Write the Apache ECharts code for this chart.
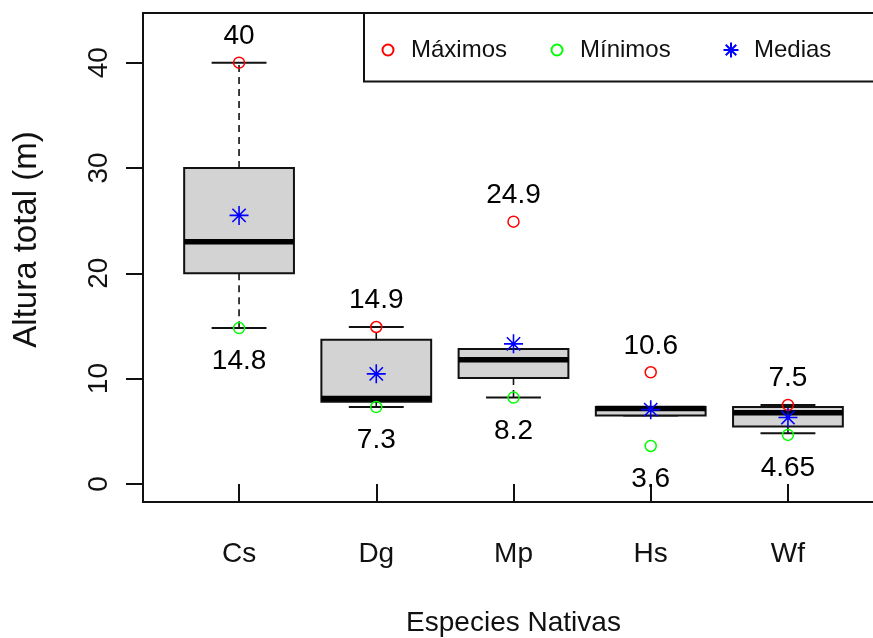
<!DOCTYPE html>
<html>
<head>
<meta charset="utf-8">
<script src="https://cdn.jsdelivr.net/npm/echarts@6/dist/echarts.min.js"></script>
<style>
  html, body { margin: 0; padding: 0; background: #fff; }
  #chart { width: 873px; height: 638px; }
</style>
</head>
<body>
<div id="chart"></div>
<script>
// Species and their height summaries (m)
const categories = ['Cs', 'Dg', 'Mp', 'Hs', 'Wf'];
const whiskerLow = [14.8, 7.3, 8.2, 6.5, 4.8];
const lowerQuartile = [20, 7.8, 10.05, 6.5, 5.45];
const medians = [23, 8.1, 11.8, 7.15, 6.75];
const upperQuartile = [30, 13.7, 12.8, 7.3, 7.3];
const whiskerHigh = [40, 14.9, 12.8, 7.3, 7.5];
const maxima = [40, 14.9, 24.9, 10.6, 7.5];
const minima = [14.8, 7.3, 8.2, 3.6, 4.65];
const means = [25.5, 10.45, 13.3, 7.05, 6.3];
const yTicks = [0, 10, 20, 30, 40];

const xPos = categories.map((_, i) => i + 1);
const boxData = categories.map((_, i) => [
  xPos[i], whiskerLow[i], lowerQuartile[i], medians[i], upperQuartile[i], whiskerHigh[i]
]);
const maxData = categories.map((_, i) => [xPos[i], maxima[i]]);
const minData = categories.map((_, i) => [xPos[i], minima[i]]);
const meanData = categories.map((_, i) => [xPos[i], means[i]]);

const ink = '#111';
const font = '"Liberation Sans", Arial, Helvetica, sans-serif';

function renderBox(params, api) {
  const x = api.value(0);
  const lo = api.value(1), q1 = api.value(2), md = api.value(3), q3 = api.value(4), hi = api.value(5);
  const halfBox = api.size([0.4, 0])[0];
  const halfCap = api.size([0.2, 0])[0];
  const pLo = api.coord([x, lo]);
  const pQ1 = api.coord([x, q1]);
  const pMd = api.coord([x, md]);
  const pQ3 = api.coord([x, q3]);
  const pHi = api.coord([x, hi]);
  const cx = pMd[0];
  const dashed = { stroke: ink, lineWidth: 1.6, lineDash: [7, 5] };
  const solid = { stroke: ink, lineWidth: 2 };
  return {
    type: 'group',
    children: [
      { type: 'line', shape: { x1: cx, y1: pQ3[1], x2: cx, y2: pHi[1] }, style: dashed },
      { type: 'line', shape: { x1: cx, y1: pQ1[1], x2: cx, y2: pLo[1] }, style: dashed },
      { type: 'line', shape: { x1: cx - halfCap, y1: pHi[1], x2: cx + halfCap, y2: pHi[1] }, style: solid },
      { type: 'line', shape: { x1: cx - halfCap, y1: pLo[1], x2: cx + halfCap, y2: pLo[1] }, style: solid },
      {
        type: 'rect',
        shape: { x: cx - halfBox, y: pQ3[1], width: halfBox * 2, height: pQ1[1] - pQ3[1] },
        style: { fill: '#D3D3D3', stroke: ink, lineWidth: 2 }
      },
      { type: 'line', shape: { x1: cx - halfBox, y1: pMd[1], x2: cx + halfBox, y2: pMd[1] }, style: { stroke: '#000', lineWidth: 5.5 } }
    ]
  };
}

// one legend entry per block so each key sits in its own column
function legendEntry(name, left, iconSize) {
  return {
    data: [name], left: left, top: 38 + (11 - iconSize) / 2 * 0, padding: 0,
    itemWidth: iconSize, itemHeight: iconSize,
    textStyle: { fontSize: 24, color: ink, fontFamily: font, padding: [0, 0, 0, 23 - iconSize / 2 - 5] }
  };
}

const chart = echarts.init(document.getElementById('chart'), null, { renderer: 'canvas' });
chart.setOption({
  animation: false,
  backgroundColor: '#fff',
  textStyle: { fontFamily: font },
  grid: {
    left: 143, top: 13, width: 741, height: 489,
    outerBoundsMode: 'none', containLabel: false,
    show: true, borderColor: ink, borderWidth: 2, backgroundColor: 'transparent'
  },
  graphic: [{
    type: 'rect',
    shape: { x: 364, y: 13, width: 600, height: 68.5 },
    style: { fill: 'none', stroke: ink, lineWidth: 2 },
    z: 10
  }],
  legend: [
    legendEntry('Máximos', 381.5, 11),
    legendEntry('Mínimos', 550.5, 11),
    legendEntry('Medias', 722.5, 15)
  ],
  xAxis: {
    type: 'value', min: 0.3, max: 5.7,
    name: 'Especies Nativas', nameLocation: 'middle', nameGap: 107,
    nameTextStyle: { fontSize: 28, color: ink, fontFamily: font },
    axisLine: { show: false },
    splitLine: { show: false },
    axisTick: { show: true, customValues: xPos, length: 17, lineStyle: { color: ink, width: 2 } },
    axisLabel: {
      customValues: xPos, margin: 38, fontSize: 28, color: ink, fontFamily: font,
      formatter: v => categories[Math.round(v) - 1] || ''
    }
  },
  yAxis: {
    type: 'value', min: -1.72, max: 44.72,
    name: 'Altura total (m)', nameLocation: 'middle', nameGap: 100,
    nameTextStyle: { fontSize: 33, color: ink, fontFamily: font, padding: [0, 0, 0, 36] },
    axisLine: { show: false },
    splitLine: { show: false },
    axisTick: { show: true, customValues: yTicks, length: 17, lineStyle: { color: ink, width: 2 } },
    axisLabel: {
      customValues: yTicks, rotate: 90, margin: 30, fontSize: 28, color: ink, fontFamily: font
    }
  },
  series: [
    {
      type: 'custom', name: 'cajas', renderItem: renderBox, data: boxData,
      encode: { x: 0, y: [1, 2, 3, 4, 5] }, z: 2, silent: true
    },
    {
      type: 'scatter', name: 'Máximos', data: maxData, symbol: 'circle', symbolSize: 11, z: 5,
      itemStyle: { color: 'transparent', borderColor: '#FF0000', borderWidth: 1.5, opacity: 1 },
      label: {
        show: true, position: 'top', distance: 6, fontSize: 28, color: '#000', opacity: 1,
        fontFamily: font, formatter: p => String(p.value[1])
      }
    },
    {
      type: 'scatter', name: 'Mínimos', data: minData, symbol: 'circle', symbolSize: 11, z: 5,
      itemStyle: { color: 'transparent', borderColor: '#00FF00', borderWidth: 1.5, opacity: 1 },
      label: {
        show: true, position: 'bottom', distance: 13, fontSize: 28, color: '#000', opacity: 1,
        fontFamily: font, formatter: p => String(p.value[1])
      }
    },
    {
      type: 'scatter', name: 'Medias', data: meanData, z: 6,
      symbol: 'path://M0,-10L0,10M-10,0L10,0M-7,-7L7,7M-7,7L7,-7', symbolSize: 19,
      itemStyle: { color: 'transparent', borderColor: '#0000FF', borderWidth: 1.6, opacity: 1 }
    }
  ]
});
</script>
</body>
</html>
